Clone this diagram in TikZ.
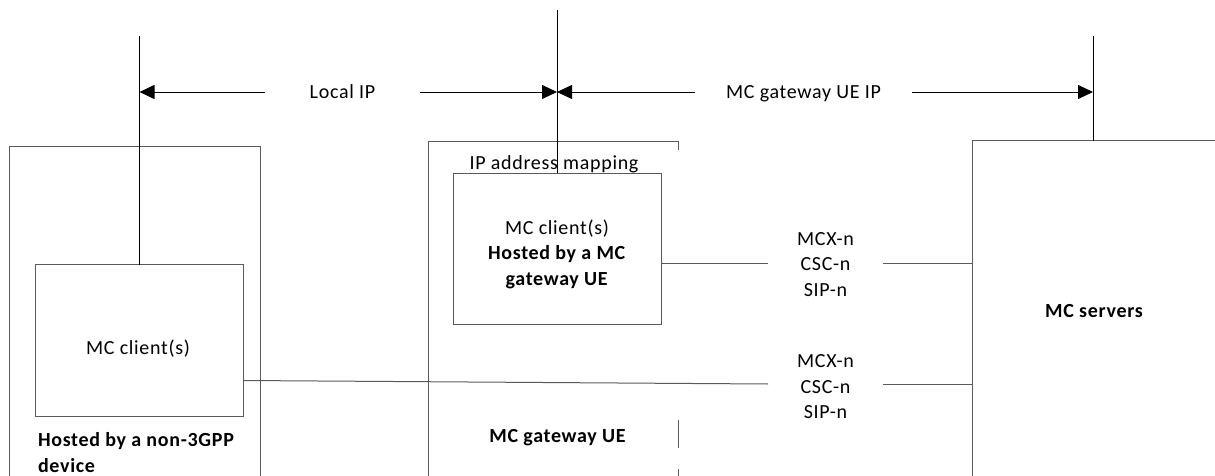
\documentclass[tikz,border=0pt]{standalone}
\usepackage{fontspec}
\setmainfont{Carlito}[LetterSpace=3.5]
\usetikzlibrary{arrows.meta}
\definecolor{boxgray}{HTML}{5A5A5A}
\begin{document}
\begin{tikzpicture}[x=1pt,y=-1pt,
  every node/.style={font=\fontsize{20}{25.5}\selectfont, inner sep=0pt, outer sep=0pt},
  frame/.style={draw=boxgray, line width=1pt, anchor=north west},
  hole/.style={anchor=north west},
  wire/.style={draw=boxgray, line width=1pt},
  vline/.style={draw=black, line width=1pt},
  dim/.style={draw=black, line width=0.8pt, -{Triangle[length=15pt,width=14pt]}},
  lbl/.style={align=center},
  bold/.style={font=\fontsize{20}{25.5}\selectfont\bfseries},
  oneline/.style={text height=13pt, text depth=0pt}
]
\useasboundingbox (0,0) rectangle (1215,476);
\clip (0,0) rectangle (1215,476);

% boxes
\node[frame, minimum width=251pt, minimum height=400pt] (dev) at (9.5,146.5) {};
\node[frame, minimum width=208pt, minimum height=152pt] (cl) at (35.5,264.5) {};
\node[hole, minimum width=250pt, minimum height=400pt] (gw) at (428,142) {};
\draw[wire] (gw.south west) -- (gw.north west) -- (gw.north east) -- ++(0,8);
\draw[wire] (gw.north east |- 0,420) -- (gw.north east |- 0,448);
\draw[wire] (gw.north east |- 0,469) -- (gw.north east |- 0,476);
\node[frame, minimum width=208pt, minimum height=151pt] (gc) at (453,173) {};
\node[frame, minimum width=300pt, minimum height=400pt] (srv) at (972,141) {};

% texts
\node[oneline] (clt) at (138,348) {MC client(s)};
\node[bold, anchor=west, align=left] (devt) at (38,452.5) {Hosted by a non-3GPP\\device};
\node[align=center] (gct) at (557,254) {MC client(s)\\\textbf{Hosted by a MC}\\\textbf{gateway UE}};
\node[oneline] (map) at (554,163) {IP address mapping};
\node[bold, oneline] (gwt) at (557.5,436) {MC gateway UE};
\node[bold, oneline] (srvt) at (1094,311) {MC servers};

% interface labels
\node[lbl, minimum width=115pt] (l1) at (825.5,264.5) {MCX-n\\CSC-n\\SIP-n};
\node[lbl, minimum width=115pt] (l2) at (825.5,387) {MCX-n\\CSC-n\\SIP-n};
\draw[wire] ([yshift=-15pt]gc.east) -- (l1.west |- 0,263.5);
\draw[wire] (l1.east |- 0,263.5) -- (srv.west |- 0,263.5);
\draw[wire] ([yshift=-40pt]cl.east) -- (l2.west |- 0,384);
\draw[wire] (l2.east |- 0,384) -- (srv.west |- 0,384);

% reference lines
\coordinate (t1) at (139.5,36);
\coordinate (t2) at (557,10);
\coordinate (t3) at (1093,36);
\draw[vline] (t1) -- (cl.north);
\draw[vline] (t2) -- (gc.north);
\draw[vline] (t3) -- (t3 |- srv.north);

% dimension arrows
\node[oneline, minimum width=155pt] (lip) at (342.5,92) {Local IP};
\node[oneline, minimum width=217pt] (gip) at (803.5,92) {MC gateway UE IP};
\draw[dim] (lip.west) -- (lip.west -| t1);
\draw[dim] (lip.east) -- (lip.east -| t2);
\draw[dim] (gip.west) -- (gip.west -| t2);
\draw[dim] (gip.east) -- (gip.east -| t3);
\end{tikzpicture}
\end{document}
